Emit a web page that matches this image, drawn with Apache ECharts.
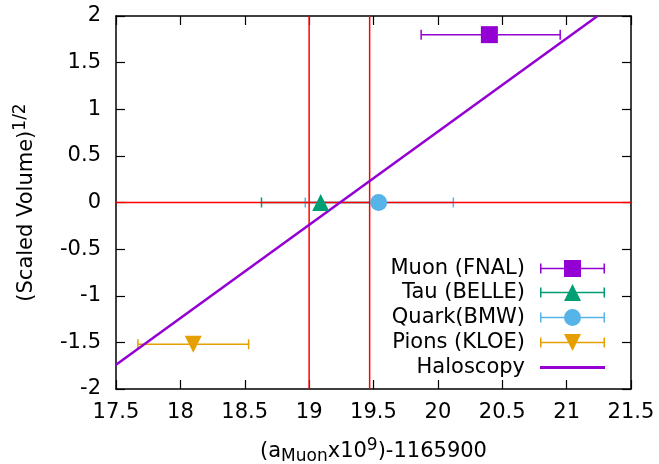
<!DOCTYPE html>
<html>
<head>
<meta charset="utf-8">
<script src="https://cdn.jsdelivr.net/npm/echarts@6/dist/echarts.min.js"></script>
<style>html,body{margin:0;padding:0;background:#fff}#c{width:659px;height:464px}</style>
</head>
<body>
<div id="c"></div>
<script>
// ---- data ----
const xTicks = [17.5, 18, 18.5, 19, 19.5, 20, 20.5, 21, 21.5];
const yTicks = [-2, -1.5, -1, -0.5, 0, 0.5, 1, 1.5, 2];
const seriesNames = ['Muon (FNAL)', 'Tau (BELLE)', 'Quark(BMW)', 'Pions (KLOE)'];
const seriesColors = ['#9400d3', '#009e73', '#56b4e9', '#e69f00'];
// [x, y, xLow, xHigh]
const muon  = [[20.40, 1.80, 19.87, 20.95]];
const tau   = [[19.09, 0.00, 18.63, 19.55]];
const quark = [[19.54, 0.00, 18.97, 20.12]];
const pions = [[18.10, -1.52, 17.67, 18.53]];
const haloscopyName = 'Haloscopy';
const haloscopy = [[17.5, -1.74], [21.24, 2.0]];
const redV1 = [[19.0, -2], [19.0, 2]];
const redV2 = [[19.47, -2], [19.47, 2]];
const redH  = [[17.5, 0], [21.5, 0]];

const points = [muon, tau, quark, pions];
const symbols = ['rect', 'triangle', 'circle', 'triangle'];
const rotations = [0, 0, 0, 180];

const FONT = 'DejaVu Sans';
const FS = 21, FS_SMALL = 17;
const cap = 'M0,3.5h1.5v10h-1.5z M63.5,3.5h1.5v10h-1.5z M0,7.75h65v1.5h-65z ';
const icons = [
  'path://' + cap + 'M24,0h17v17h-17z',
  'path://' + cap + 'M32.5,0L41,17L24,17z',
  'path://' + cap + 'M24,8.5A8.5,8.5 0 1,1 41,8.5A8.5,8.5 0 1,1 24,8.5z',
  'path://' + cap + 'M24,0L41,0L32.5,17z'
];

const chart = echarts.init(document.getElementById('c'), null, {renderer: 'canvas'});

function errRender(color) {
  return function (params, api) {
    const y = api.value(1);
    const lo = api.coord([api.value(2), y]);
    const hi = api.coord([api.value(3), y]);
    const st = {stroke: color, lineWidth: 1.5};
    return {
      type: 'group',
      children: [
        {type: 'line', shape: {x1: lo[0], y1: lo[1], x2: hi[0], y2: hi[1]}, style: st},
        {type: 'line', shape: {x1: lo[0], y1: lo[1] - 5, x2: lo[0], y2: lo[1] + 5}, style: st},
        {type: 'line', shape: {x1: hi[0], y1: hi[1] - 5, x2: hi[0], y2: hi[1] + 5}, style: st}
      ]
    };
  };
}

const series = [];
points.forEach((d, i) => {
  series.push({name: seriesNames[i], type: 'scatter', data: d.map(p => [p[0], p[1]]),
    symbol: symbols[i], symbolSize: 17, symbolRotate: rotations[i],
    itemStyle: {color: seriesColors[i], opacity: 1}, z: 5, animation: false});
  series.push({name: seriesNames[i] + ' err', type: 'custom', data: d,
    encode: {x: 0, y: 1}, renderItem: errRender(seriesColors[i]), z: 2, animation: false});
});
const red = {color: '#ff0000', width: 1.5};
[redV1, redV2, redH].forEach((d, i) => {
  series.push({name: 'red' + i, type: 'line', data: d, showSymbol: false, silent: true,
    lineStyle: red, itemStyle: {color: '#ff0000'}, z: 3, animation: false});
});
series.push({name: haloscopyName, type: 'line', data: haloscopy, showSymbol: false, clip: true,
  lineStyle: {color: '#9400d3', width: 2.5}, itemStyle: {color: '#9400d3'}, z: 4, animation: false});

const rowY = [268, 292, 317, 342, 367];
const legends = seriesNames.map((n, i) => ({
  right: 54, top: rowY[i] - 10, orient: 'vertical', align: 'right', padding: 0,
  itemWidth: 65, itemHeight: 17, selectedMode: false,
  data: [{name: n, icon: icons[i]}],
  textStyle: {fontFamily: FONT, fontSize: FS, color: '#000', padding: [0, 10, 0, 0]}
}));
legends.push({
  right: 54, top: rowY[4] - 10, orient: 'vertical', align: 'right', padding: 0,
  itemWidth: 65, itemHeight: 3, selectedMode: false,
  data: [{name: haloscopyName, icon: 'path://M0,0h65v3h-65z'}],
  textStyle: {fontFamily: FONT, fontSize: FS, color: '#000', padding: [0, 10, 0, 0]}
});

const axisLine = {show: true, onZero: false, lineStyle: {color: '#000', width: 1.5}};
const tick = {show: true, inside: true, length: 9, lineStyle: {color: '#000', width: 1.2}};

chart.setOption({
  animation: false,
  backgroundColor: '#fff',
  textStyle: {fontFamily: FONT},
  grid: {left: 116, right: 28, top: 16, bottom: 75, containLabel: false, outerBoundsMode: 'none'},
  legend: legends,
  xAxis: [{
    type: 'value', position: 'bottom', min: xTicks[0], max: xTicks[xTicks.length - 1],
    interval: xTicks[1] - xTicks[0],
    axisLine: axisLine, axisTick: tick, splitLine: {show: false},
    axisLabel: {fontFamily: FONT, fontSize: FS, color: '#000', margin: 13},
    name: '(a{sub|Muon}x10{sup|9})-1165900', nameLocation: 'middle', nameGap: 48,
    nameTextStyle: {fontFamily: FONT, fontSize: FS, color: '#000',
      rich: {sub: {fontFamily: FONT, fontSize: FS_SMALL, color: '#000', padding: [10, 0, 0, 0]},
             sup: {fontFamily: FONT, fontSize: FS_SMALL, color: '#000', padding: [0, 0, 12, 0]}}}
  }, {
    type: 'value', position: 'top', min: xTicks[0], max: xTicks[xTicks.length - 1],
    interval: xTicks[1] - xTicks[0],
    axisLine: axisLine, axisTick: tick, axisLabel: {show: false}, splitLine: {show: false}
  }],
  yAxis: [{
    type: 'value', position: 'left', min: yTicks[0], max: yTicks[yTicks.length - 1],
    interval: yTicks[1] - yTicks[0],
    axisLine: axisLine, axisTick: tick, splitLine: {show: false},
    axisLabel: {fontFamily: FONT, fontSize: FS, color: '#000', margin: 15},
    name: '(Scaled Volume){sup|1/2}', nameLocation: 'middle', nameGap: 75, nameRotate: 90,
    nameTextStyle: {fontFamily: FONT, fontSize: FS, color: '#000',
      rich: {sup: {fontFamily: FONT, fontSize: FS_SMALL, color: '#000', padding: [0, 0, 12, 0]}}}
  }, {
    type: 'value', position: 'right', min: yTicks[0], max: yTicks[yTicks.length - 1],
    interval: yTicks[1] - yTicks[0],
    axisLine: axisLine, axisTick: tick, axisLabel: {show: false}, splitLine: {show: false}
  }],
  series: series
});
</script>
</body>
</html>
